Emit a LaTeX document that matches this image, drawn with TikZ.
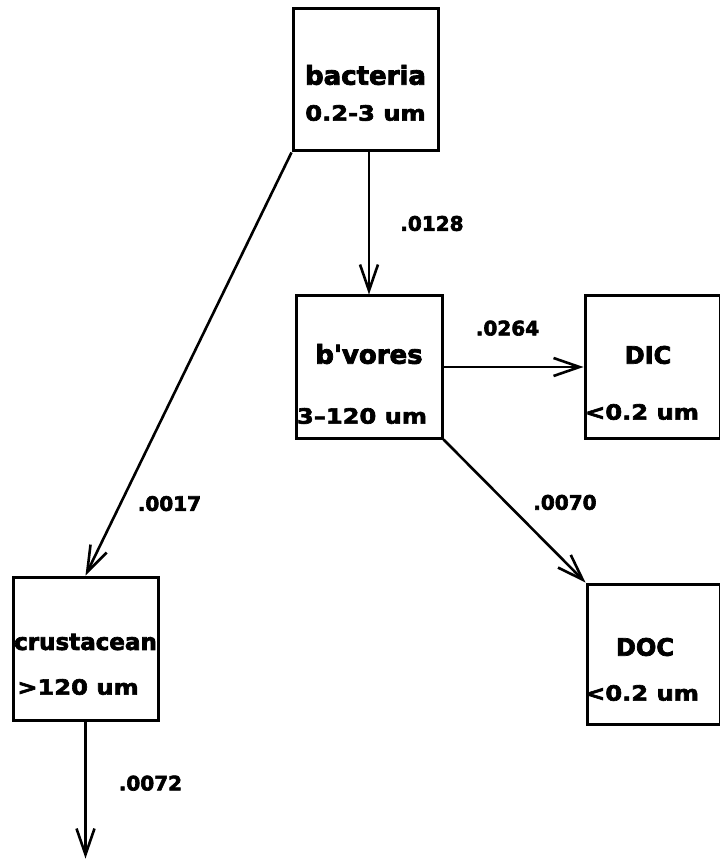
\documentclass[tikz,border=0pt]{standalone}
\usepackage{fontspec}
\usetikzlibrary{arrows.meta,positioning}
\newfontfamily\diagfont{DejaVu Sans}[FakeBold=3]
\newfontfamily\widefont{DejaVu Sans}[FakeStretch=1.15,FakeBold=3]
\tikzset{
  comp/.style={draw, line width=1.5pt, minimum width=72.5pt, minimum height=71pt, inner sep=0pt},
  compname/.style={font=\diagfont\bfseries\fontsize{13}{15}\selectfont, inner sep=0pt},
  compsize/.style={font=\widefont\bfseries\fontsize{10.5}{13}\selectfont, inner sep=0pt},
  flow/.style={line width=1.3pt, -{Straight Barb[length=13pt,width=9pt,line width=1.3pt]}},
  rate/.style={font=\diagfont\bfseries\fontsize{10}{12}\selectfont, inner sep=0pt}
}

\begin{document}
\begin{tikzpicture}
\useasboundingbox (0,0) rectangle (359.5pt,-432.5pt);
% compartments
\node[comp] (bact) at (182.75pt,-40pt) {};
\node[comp, below=71pt of bact, xshift=1.75pt, minimum width=73pt] (bvor) {};
\node[comp, right=70pt of bvor, minimum width=67.5pt] (dic) {};
\node[comp, below=71.5pt of dic, xshift=0.5pt, minimum width=66.5pt, minimum height=70pt] (doc) {};
\node[comp, minimum height=71.5pt] (crust) at (42.75pt,-324.25pt) {};
% texts in the boxes
\node[compname] (bactname) at ([yshift=2.5pt]bact.center) {bacteria};
\node[compsize] (bactsize) at ([yshift=-16.5pt]bact.center) {0.2-3 um};
\node[compname] (bvorname) at ([yshift=6.5pt]bvor.center) {b'vores};
\node[compsize] (bvorsize) at ([xshift=-3.5pt,yshift=-24.5pt]bvor.center) {3–120 um};
\node[compname, font=\diagfont\bfseries\fontsize{12}{14}\selectfont] (dicname) at ([xshift=-2.25pt,yshift=6pt]dic.center) {DIC};
\node[compsize] (dicsize) at ([xshift=-5.25pt,yshift=-22.5pt]dic.center) {<0.2 um};
\node[compname, font=\diagfont\bfseries\fontsize{11.5}{13}\selectfont] (crustname) at ([yshift=3.25pt]crust.center) {crustacean};
\node[compsize] (crustsize) at ([xshift=-3.75pt,yshift=-19.25pt]crust.center) {>120 um};
\node[compname, font=\diagfont\bfseries\fontsize{12}{14}\selectfont] (docname) at ([xshift=-4.25pt,yshift=3.5pt]doc.center) {DOC};
\node[compsize] (docsize) at ([xshift=-5.75pt,yshift=-19.5pt]doc.center) {<0.2 um};
% flows
\coordinate[below=68.5pt of crust.south] (sink);
\draw[flow] (bact.south -| bvor.north) -- (bvor.north) node[rate, midway, right=15pt] (r0128) {.0128};
\draw[flow] (bact.south west) -- (crust.north) node[rate, pos=0.83, right=8pt] (r0017) {.0017};
\draw[flow] (bvor.east) -- (dic.west) node[rate, midway, above=15pt, xshift=-3pt] (r0264) {.0264};
\draw[flow] (bvor.south east) -- (doc.north west) node[rate, pos=0.44, right=13pt] (r0070) {.0070};
\draw[flow] (crust.south) -- (sink) node[rate, pos=0.45, right=16pt] (r0072) {.0072};
\end{tikzpicture}
\end{document}
